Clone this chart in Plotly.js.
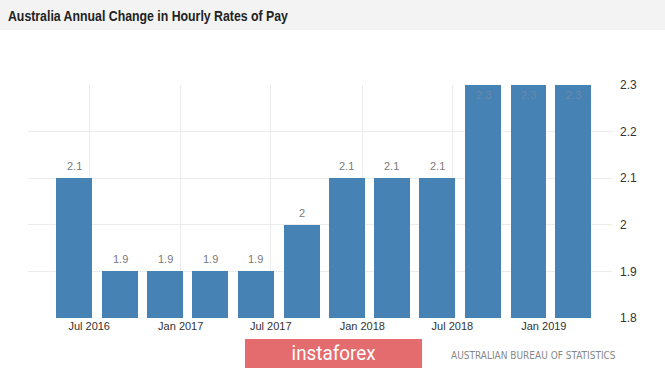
<!DOCTYPE html>
<html>
<head>
<meta charset="utf-8">
<script src="https://cdn.plot.ly/plotly-3.0.1.min.js"></script>
<style>html,body{margin:0;padding:0;background:#fff;}#chart{width:665px;height:370px;}</style>
</head>
<body>
<div id="chart"></div>
<script>
// Data
var periods = ['2016-06-01','2016-09-01','2016-12-01','2017-03-01','2017-06-01','2017-09-01',
               '2017-12-01','2018-03-01','2018-06-01','2018-09-01','2018-12-01','2019-03-01'];
var values = [2.1, 1.9, 1.9, 1.9, 1.9, 2.0, 2.1, 2.1, 2.1, 2.3, 2.3, 2.3];
var valueLabels = ['2.1','1.9','1.9','1.9','1.9','2','2.1','2.1','2.1','2.3','2.3','2.3'];
var yTicks = [1.8, 1.9, 2.0, 2.1, 2.2, 2.3];
var yTickText = ['1.8','1.9','2','2.1','2.2','2.3'];
var chartTitle = 'Australia Annual Change in Hourly Rates of Pay';
var sourceText = 'AUSTRALIAN BUREAU OF STATISTICS';
var brandText = 'instaforex';

var yMin = 1.8, yMax = 2.3;
var DAY = 86400000;

var trace = {
  type: 'bar',
  x: periods,
  y: values,
  width: periods.map(function(){ return 72 * DAY; }),
  marker: {color: '#4682B4'},
  hoverinfo: 'skip'
};

var anns = values.map(function(v, i){
  var top = v >= yMax;
  return {
    x: periods[i], xref: 'x',
    y: Math.min(v, yMax), yref: 'y',
    text: valueLabels[i],
    showarrow: false,
    yanchor: top ? 'top' : 'bottom',
    yshift: top ? -2 : 4,
    font: {family: 'Liberation Sans, Arial, sans-serif', size: 11, color: top ? '#6a88aa' : '#7a7a7a'}
  };
});

anns.push({
  x: 0.5223, xref: 'paper', y: -0.150, yref: 'paper',
  text: brandText, showarrow: false, xanchor: 'center', yanchor: 'middle',
  font: {family: 'Roboto, sans-serif', size: 20, color: '#ffffff'}
});
anns.push({
  x: 0.7209, xref: 'paper', y: -0.1588, yref: 'paper',
  text: sourceText, showarrow: false, xanchor: 'left', yanchor: 'middle',
  font: {family: 'DejaVu Sans Condensed, Liberation Sans, sans-serif', size: 10, color: '#888888'}
});

var layout = {
  width: 665, height: 370,
  margin: {l: 28, r: 53, t: 85, b: 52},
  paper_bgcolor: '#ffffff',
  plot_bgcolor: '#ffffff',
  showlegend: false,
  title: {
    text: chartTitle,
    x: 0.012, xref: 'container', xanchor: 'left',
    y: 0.958, yref: 'container', yanchor: 'middle',
    font: {family: 'Liberation Sans, Arial, sans-serif', size: 15, weight: 'bold', color: '#222222'}
  },
  xaxis: {
    type: 'date',
    range: ['2016-02-29', '2019-05-18'],
    tick0: '2016-01-01', dtick: 'M6',
    tickformat: '%b %Y',
    ticks: '',
    showgrid: true, gridcolor: '#ececec', gridwidth: 1,
    zeroline: false, showline: false,
    tickfont: {family: 'Liberation Sans, Arial, sans-serif', size: 11, color: '#333333'},
    fixedrange: true
  },
  yaxis: {
    range: [yMin, yMax],
    side: 'right',
    tickvals: yTicks, ticktext: yTickText,
    ticks: '',
    ticklabelstandoff: 7,
    showgrid: true, gridcolor: '#ececec', gridwidth: 1,
    zeroline: false, showline: false,
    tickfont: {family: 'Liberation Sans, Arial, sans-serif', size: 12, color: '#333333'},
    fixedrange: true
  },
  bargap: 0,
  shapes: [
    {type: 'rect', xref: 'paper', yref: 'paper', x0: -0.06, x1: 1.10, y0: 1.236, y1: 1.40,
     fillcolor: '#f3f3f3', line: {width: 0}, layer: 'below'},
    {type: 'rect', xref: 'paper', yref: 'paper', x0: 0.3716, x1: 0.6747, y0: -0.2146, y1: -0.0901,
     fillcolor: '#e56c6e', line: {width: 0}, layer: 'below'}
  ],
  annotations: anns
};

Plotly.newPlot('chart', [trace], layout, {displayModeBar: false, staticPlot: true}).then(function(gd){
  // condense the title and brand text to match the narrow type of the original
  var t = gd.querySelector('.gtitle');
  if (t) { t.setAttribute('textLength', '280'); t.setAttribute('lengthAdjust', 'spacingAndGlyphs'); }
  gd.querySelectorAll('.annotation-text').forEach(function(el){
    if (el.textContent === brandText) {
      el.setAttribute('textLength', '84'); el.setAttribute('lengthAdjust', 'spacingAndGlyphs');
    }
  });
});
</script>
</body>
</html>
